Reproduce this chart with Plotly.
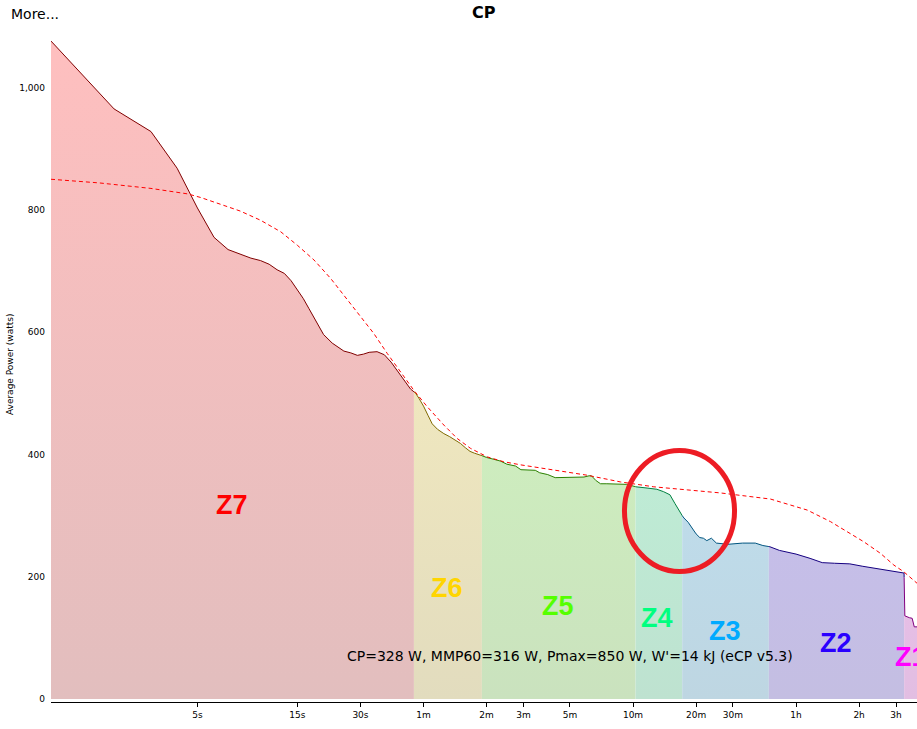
import numpy as np
import plotly.graph_objects as go

# ---- Mean-maximal power curve (duration in s, average power in W) ----
durations = [1, 2, 3, 4, 5, 6, 7, 8, 9, 10,
             11, 12, 13, 14, 15, 16, 17, 18, 20, 22,
             25, 27, 29, 31, 33, 36, 39, 42, 45, 48,
             52, 55, 57, 60, 63, 66, 70, 75, 80, 85,
             90, 95, 100, 105, 110, 120, 130, 140, 150, 165,
             175, 190, 205, 215, 235, 255, 280, 300, 350, 370,
             380, 400, 420, 450, 500, 560, 620, 700, 780, 840,
             900, 950, 1000, 1050, 1100, 1150, 1200, 1250, 1300, 1350,
             1420, 1500, 1700, 2000, 2300, 2500, 2700, 3000, 3600, 4200,
             4800, 5500, 6500, 7500, 8500, 10000, 11800, 11900, 12500, 12900,
             13200, 13700]
watts = [1076, 965, 928, 868, 803, 755, 735, 727, 721, 717,
         711, 702, 696, 684, 669, 655, 639, 623, 596, 582,
         569, 566, 562, 564, 567, 568, 563, 551, 537, 524,
         507, 500, 492, 479, 464, 450, 441, 434, 429, 424,
         418, 411, 405, 402, 400, 395, 392, 389, 384, 381,
         375, 375, 374, 370, 367, 362, 362, 363, 363, 365,
         365, 357, 352, 352, 352, 351, 347, 345, 343, 339,
         334, 320, 306, 296, 289, 280, 270, 264, 263, 259,
         263, 255, 253, 255, 255, 251, 249, 243, 237, 230,
         223, 222, 221, 217, 214, 210, 206, 136, 133, 132,
         118, 118]

# ---- CP model curve (eCP) ----
cp_durations = [1, 1.7, 3, 4.5, 5.2, 6.4, 8, 10, 12.5, 15,
                18, 21.6, 25.9, 30, 34.7, 40.3, 46.6, 53.9, 62.5, 75,
                86.9, 100.5, 120.8, 145, 174, 251, 362, 523, 754, 1088,
                1570, 2718, 3388, 4070, 5260, 6320, 7590, 9120, 10550, 11770,
                13640]
cp_watts = [850, 844, 835, 826, 820, 810, 798, 783, 764, 742,
            718, 688, 653, 625, 598, 565, 535, 505, 478, 448,
            426, 410, 396, 388, 383, 374.5, 366, 355, 347, 342,
            337, 327, 317, 309, 290, 274, 257, 238, 219, 208,
            189]

# ---- Power zones ----
zone_names = ["Z7", "Z6", "Z5", "Z4", "Z3", "Z2", "Z1"]
zone_edges = [1, 54, 114, 617, 1030, 2670, 11810, 13700]   # duration where each zone starts/ends
zone_rgb = [(255, 0, 0), (255, 213, 0), (85, 255, 0), (0, 255, 128),
            (0, 170, 255), (42, 0, 255), (255, 0, 255)]
zone_label_t = [7.3, 78, 262, 785, 1640, 5610, 12670]
zone_label_w = [317, 181, 152, 132, 111, 92, 68]

x_tick_vals = [5, 15, 30, 60, 120, 180, 300, 600, 1200, 1800, 3600, 7200, 10800]
x_tick_text = ["5s", "15s", "30s", "1m", "2m", "3m", "5m", "10m", "20m", "30m", "1h", "2h", "3h"]
y_tick_vals = [0, 200, 400, 600, 800, 1000]

info_text = "CP=328 W, MMP60=316 W, Pmax=850 W, W'=14 kJ (eCP v5.3)"
info_t, info_w = 300, 70

Y_MIN, Y_MAX = -4.9, 1085.9

# ---------------------------------------------------------------
logt = np.log10(np.array(durations, dtype=float))
w_arr = np.array(watts, dtype=float)
t_arr = np.array(durations, dtype=float)


def segment(lo, hi):
    llo, lhi = np.log10(lo), np.log10(hi)
    m = (logt > llo) & (logt < lhi)
    xs = [lo] + list(t_arr[m]) + [hi]
    ys = [float(np.interp(llo, logt, w_arr))] + list(w_arr[m]) + [float(np.interp(lhi, logt, w_arr))]
    return xs, ys


def rgb(c):
    return "rgb(%d,%d,%d)" % tuple(int(round(v)) for v in c)


fig = go.Figure()

segs = []
for i, name in enumerate(zone_names):
    xs, ys = segment(zone_edges[i], zone_edges[i + 1])
    segs.append((xs, ys))
    zc = np.array(zone_rgb[i], dtype=float)
    bottom = 190 + 0.14 * zc
    top = 191 + 0.25 * zc
    fig.add_trace(go.Scatter(
        x=xs, y=ys, mode="lines", line=dict(width=0), fill="tozeroy",
        fillgradient=dict(type="vertical", colorscale=[[0, rgb(bottom)], [1, rgb(top)]],
                          start=0, stop=Y_MAX),
        hoverinfo="skip", showlegend=False))

for i, (xs, ys) in enumerate(segs):
    zc = np.array(zone_rgb[i], dtype=float)
    fig.add_trace(go.Scatter(
        x=xs, y=ys, mode="lines", line=dict(width=1, color=rgb(zc * 0.5)),
        hoverinfo="skip", showlegend=False))

fig.add_trace(go.Scatter(
    x=cp_durations, y=cp_watts, mode="lines",
    line=dict(width=1, color="red", dash="4px,3px"),
    hoverinfo="skip", showlegend=False))

annotations = []
for i, name in enumerate(zone_names):
    annotations.append(dict(
        x=np.log10(zone_label_t[i]), y=zone_label_w[i], xref="x", yref="y",
        text="<b>%s</b>" % name, showarrow=False,
        font=dict(family="Liberation Sans", size=27, color=rgb(zone_rgb[i])),
        xanchor="center", yanchor="middle"))

annotations.append(dict(
    x=np.log10(info_t), y=info_w, xref="x", yref="y", text=info_text, showarrow=False,
    font=dict(family="DejaVu Sans", size=14, color="black"), xanchor="center", yanchor="middle"))

annotations.append(dict(
    x=0.5, y=1.0334, xref="paper", yref="paper", text="<b>CP</b>", showarrow=False,
    font=dict(family="DejaVu Sans", size=16, color="black"), xanchor="center", yanchor="middle"))
annotations.append(dict(
    x=-0.0485, y=1.0315, xref="paper", yref="paper", text="More...", showarrow=False,
    font=dict(family="DejaVu Sans", size=14, color="black"), xanchor="left", yanchor="middle"))
annotations.append(dict(
    x=-0.0473, y=0.5067, xref="paper", yref="paper", text="Average Power (watts)", showarrow=False,
    textangle=-90, font=dict(family="DejaVu Sans", size=9, color="black"),
    xanchor="center", yanchor="middle"))

fig.update_layout(
    width=917, height=729,
    margin=dict(l=51, r=0, t=35, b=27),
    plot_bgcolor="white", paper_bgcolor="white",
    showlegend=False,
    font=dict(family="DejaVu Sans", size=9, color="black"),
    annotations=annotations,
    shapes=[dict(type="circle", xref="paper", yref="paper",
                 x0=0.6622, x1=0.7893, y0=0.1957, y1=0.3771,
                 line=dict(color="#ed1c24", width=5))],
)
fig.update_xaxes(
    type="log", range=[0, 866 / 209.5],
    tickvals=x_tick_vals, ticktext=x_tick_text,
    ticks="outside", ticklen=4, tickcolor="black", tickwidth=1,
    showline=True, linecolor="black", linewidth=1,
    showgrid=False, zeroline=False,
)
fig.update_yaxes(
    range=[Y_MIN, Y_MAX], tickvals=y_tick_vals, tickformat=",",
    ticks="", showline=False, showgrid=False, zeroline=False,
    ticklabelstandoff=5,
)

fig.write_html("out.html",
               config={"displayModeBar": False},
               post_script="document.body.style.margin='0';document.body.style.overflow='hidden';")
